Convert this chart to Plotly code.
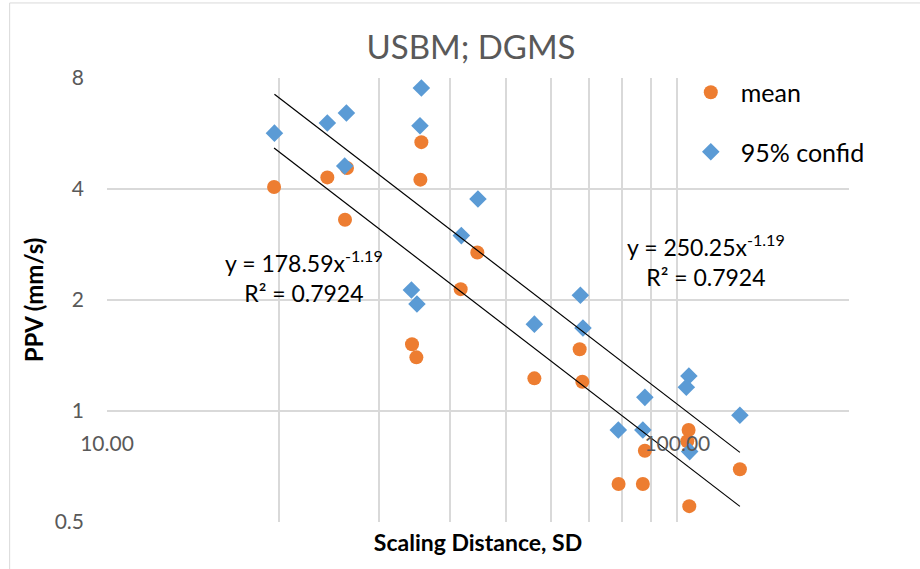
import numpy as np
import plotly.graph_objects as go

# ---- data ----
sd_mean = [19.63, 24.34, 26.35, 26.14, 35.58, 35.44, 34.26, 34.87, 41.70, 44.60,
           56.15, 67.42, 68.15, 78.89, 87.01, 87.72, 104.66, 104.11, 104.95, 128.74]
ppv_mean = [4.05, 4.30, 4.56, 3.30, 5.36, 4.24, 1.517, 1.398, 2.14, 2.69,
            1.226, 1.47, 1.20, 0.634, 0.634, 0.780, 0.888, 0.828, 0.552, 0.695]

sd_conf = [19.66, 24.34, 26.29, 26.11, 35.58, 35.38, 34.18, 34.95, 41.81, 44.71,
           56.15, 67.61, 68.32, 78.80, 87.01, 87.72, 104.78, 103.70, 105.10, 128.74]
ppv_conf = [5.67, 6.04, 6.43, 4.62, 7.52, 5.94, 2.13, 1.95, 2.99, 3.76,
            1.72, 2.06, 1.68, 0.888, 0.888, 1.089, 1.245, 1.16, 0.776, 0.974]

# power trendline coefficients shown on the chart
fit_mean = (178.59, -1.19)
fit_conf = (250.25, -1.19)
r2_text = "0.7924"

x_ticks = [10, 100]
x_ticktext = ["10.00", "100.00"]
x_minor = [20, 30, 40, 50, 60, 70, 80, 90, 200]
y_ticks = [0.5, 1, 2, 4, 8]
y_ticktext = ["0.5", "1", "2", "4", "8"]

ORANGE = "#ED7D31"
BLUE = "#5B9BD5"
FONT = "Lato"

fig = go.Figure()
fig.add_trace(go.Scatter(x=sd_mean, y=ppv_mean, mode="markers", name="mean",
                         legendgroup="a",
                         marker=dict(symbol="circle", size=14, color=ORANGE)))
fig.add_trace(go.Scatter(x=sd_conf, y=ppv_conf, mode="markers", name="95% confid",
                         legendgroup="b",
                         marker=dict(symbol="diamond", size=13.5, color=BLUE)))

for (a, b), xs in ((fit_mean, sd_mean), (fit_conf, sd_conf)):
    xx = np.array([min(xs), max(xs)])
    fig.add_trace(go.Scatter(x=xx, y=a * xx ** b, mode="lines", showlegend=False,
                             line=dict(color="black", width=1.2), hoverinfo="skip"))

def eq_text(a, b):
    return f"y = {a:.2f}x<sup>{b:.2f}</sup><br>R² = {r2_text}"

fig.add_annotation(x=np.log10(22.13), y=np.log10(2.32), xref="x", yref="y",
                   text=eq_text(*fit_mean), showarrow=False,
                   font=dict(family=FONT, size=23, color="black"), align="center")
fig.add_annotation(x=np.log10(112.1), y=np.log10(2.56), xref="x", yref="y",
                   text=eq_text(*fit_conf), showarrow=False,
                   font=dict(family=FONT, size=23, color="black"), align="center")

# outer chart border
fig.add_shape(type="rect", xref="paper", yref="paper",
              x0=-0.1312, x1=1.3, y0=-0.3, y1=1.169,
              line=dict(color="#d9d9d9", width=1), fillcolor="rgba(0,0,0,0)")

GRID = "#d9d9d9"
fig.update_layout(
    width=920, height=569,
    margin=dict(l=107, r=71, t=78, b=47),
    paper_bgcolor="white", plot_bgcolor="white",
    font=dict(family=FONT, color="#595959"),
    title=dict(text="USBM; DGMS", x=471 / 920, xref="container", xanchor="center",
               y=1 - 47 / 569, yref="container", yanchor="middle",
               font=dict(family=FONT, size=33, color="#595959")),
    showlegend=True,
    legend=dict(x=0.7733, y=1.019, xanchor="left", yanchor="top",
                bgcolor="rgba(0,0,0,0)", traceorder="grouped", tracegroupgap=24,
                itemwidth=50,
                font=dict(family=FONT, size=25, color="black")),
    xaxis=dict(type="log", range=[1, np.log10(200)],
               tickvals=x_ticks, ticktext=x_ticktext, ticks="",
               tickfont=dict(family=FONT, size=21, color="#595959"),
               showgrid=True, gridcolor=GRID, gridwidth=2,
               minor=dict(tickvals=x_minor, showgrid=True, gridcolor=GRID, gridwidth=2, ticks=""),
               showline=False, zeroline=False,
               anchor="free", position=0.25, ticklabelstandoff=18,
               title=dict(text="<b>Scaling Distance, SD</b>", standoff=80,
                          font=dict(family=FONT, size=23, color="black"))),
    yaxis=dict(type="log", range=[np.log10(0.5), np.log10(8)],
               tickvals=y_ticks, ticktext=y_ticktext, ticks="",
               tickfont=dict(family=FONT, size=21, color="#595959"),
               showgrid=True, gridcolor=GRID, gridwidth=2,
               showline=False, zeroline=False, ticklabelstandoff=22,
               title=dict(text="<b>PPV (mm/s)</b>", standoff=4,
                          font=dict(family=FONT, size=24, color="black"))),
)

fig.write_html("out.html")
